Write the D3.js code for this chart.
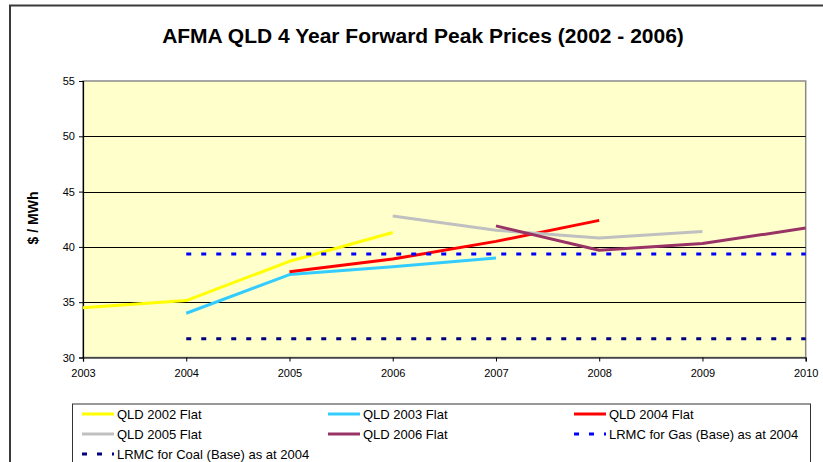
<!DOCTYPE html>
<html>
<head>
<meta charset="utf-8">
<script src="https://cdn.jsdelivr.net/npm/d3@7"></script>
<style>
  html, body { margin: 0; padding: 0; background: #fff; }
  svg { display: block; font-family: "Liberation Sans", Arial, sans-serif; }
</style>
</head>
<body>
<svg id="chart" width="823" height="462"></svg>
<script>
// ---- data ----
const chartTitle = "AFMA QLD 4 Year Forward Peak Prices (2002 - 2006)";
const yAxisTitle = "$ / MWh";
const xTicks = [2003, 2004, 2005, 2006, 2007, 2008, 2009, 2010];
const yTicks = [30, 35, 40, 45, 50, 55];

const seriesNames = ["QLD 2002 Flat", "QLD 2003 Flat", "QLD 2004 Flat", "QLD 2005 Flat", "QLD 2006 Flat",
                     "LRMC for Gas (Base) as at 2004", "LRMC for Coal (Base) as at 2004"];
const years2002 = [2003, 2004, 2005, 2006];
const qld2002 = [34.5, 35.15, 38.7, 41.3];
const years2003 = [2004, 2005, 2006, 2007];
const qld2003 = [34.0, 37.5, 38.2, 39.0];
const years2004 = [2005, 2006, 2007, 2008];
const qld2004 = [37.75, 38.9, 40.5, 42.4];
const years2005 = [2006, 2007, 2008, 2009];
const qld2005 = [42.8, 41.5, 40.8, 41.4];
const years2006 = [2007, 2008, 2009, 2010];
const qld2006 = [41.9, 39.7, 40.3, 41.7];
const yearsLrmc = [2004, 2010];
const lrmcGas = [39.35, 39.35];
const lrmcCoal = [31.7, 31.7];

// ---- styles ----
const styles = [
  { color: "#FFFF00", dash: null },
  { color: "#33CCFF", dash: null },
  { color: "#FF0000", dash: null },
  { color: "#C0C0C0", dash: null },
  { color: "#993366", dash: null },
  { color: "#0000FF", dash: "5,10" },
  { color: "#000080", dash: "5,10" }
];
const seriesX = [years2002, years2003, years2004, years2005, years2006, yearsLrmc, yearsLrmc];
const seriesY = [qld2002, qld2003, qld2004, qld2005, qld2006, lrmcGas, lrmcCoal];

const svg = d3.select("#chart");
const plot = { left: 83, right: 805.7, top: 81, bottom: 357.5 };

const x = d3.scaleLinear().domain([2003, 2010]).range([plot.left, plot.right]);
const y = d3.scaleLinear().domain([30, 55]).range([plot.bottom, plot.top]);

// outer chart border
svg.append("rect").attr("x", 10).attr("y", 5.5).attr("width", 900).attr("height", 900)
  .attr("fill", "#fff").attr("stroke", "#3a3a3a").attr("stroke-width", 2);

// title
svg.append("text").attr("x", 423).attr("y", 42.5).attr("text-anchor", "middle")
  .attr("font-size", "21px").attr("font-weight", "bold").attr("fill", "#000").text(chartTitle);

// plot area
svg.append("rect").attr("x", plot.left).attr("y", plot.top)
  .attr("width", plot.right - plot.left).attr("height", plot.bottom - plot.top)
  .attr("fill", "#FFFFCC").attr("stroke", "#8a8a8a").attr("stroke-width", 1.5);

// gridlines
svg.append("g").selectAll("line").data(yTicks.filter(d => d > 30 && d < 55)).join("line")
  .attr("x1", plot.left).attr("x2", plot.right)
  .attr("y1", d => Math.round(y(d)) + 0.5).attr("y2", d => Math.round(y(d)) + 0.5)
  .attr("stroke", "#000").attr("stroke-width", 1);

// axes
const yAxis = d3.axisLeft(y).tickValues(yTicks).tickSize(4).tickPadding(4).tickFormat(d3.format("d"));
const gy = svg.append("g").attr("transform", `translate(${plot.left},0)`).call(yAxis);
const xAxis = d3.axisBottom(x).tickValues(xTicks).tickSize(4).tickPadding(8).tickFormat(d3.format("d"));
const gx = svg.append("g").attr("transform", `translate(0,${plot.bottom})`).call(xAxis);
[gx, gy].forEach(g => {
  g.select(".domain").attr("stroke", "#000").attr("stroke-width", 1.2);
  g.selectAll(".tick line").attr("stroke", "#000");
  g.selectAll(".tick text").attr("font-size", "11px").attr("fill", "#000")
    .attr("font-family", "'Liberation Sans', Arial, sans-serif");
});

// y axis title
svg.append("text").attr("transform", `translate(38,218) rotate(-90)`).attr("text-anchor", "middle")
  .attr("font-size", "14px").attr("font-weight", "bold").attr("fill", "#000").text(yAxisTitle);

// series
const line = d3.line().x(d => x(d[0])).y(d => y(d[1]));
const linesG = svg.append("g");
seriesY.forEach((vals, i) => {
  const pts = vals.map((v, j) => [seriesX[i][j], v]);
  const p = linesG.append("path").datum(pts).attr("d", line)
    .attr("fill", "none").attr("stroke", styles[i].color)
    .attr("stroke-width", 3).attr("stroke-linejoin", "round");
  if (styles[i].dash) p.attr("stroke-dasharray", styles[i].dash).attr("stroke-width", 3);
});

// legend
const legend = svg.append("g");
legend.append("rect").attr("x", 72.5).attr("y", 404).attr("width", 738).attr("height", 100)
  .attr("fill", "#fff").attr("stroke", "#333").attr("stroke-width", 1);
const colX = [82, 328, 574];
const rowY = [414, 434, 454];
seriesNames.forEach((name, i) => {
  const cx = colX[i % 3], cy = rowY[Math.floor(i / 3)];
  const l = legend.append("line").attr("x1", cx).attr("x2", cx + 32).attr("y1", cy).attr("y2", cy)
    .attr("stroke", styles[i].color).attr("stroke-width", 3);
  if (styles[i].dash) l.attr("stroke-dasharray", styles[i].dash);
  legend.append("text").attr("x", cx + 35).attr("y", cy).attr("dy", "0.35em")
    .attr("font-size", "13px").attr("fill", "#000").text(name);
});
</script>
</body>
</html>
